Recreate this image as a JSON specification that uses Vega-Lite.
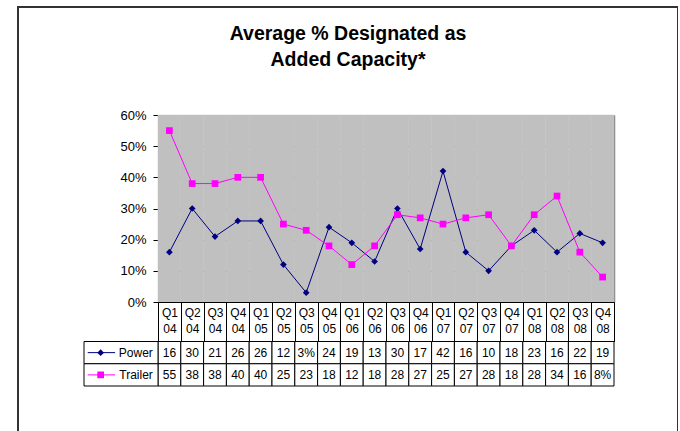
{
  "$schema": "https://vega.github.io/schema/vega-lite/v6.json",
  "width": 660,
  "height": 430,
  "autosize": {"type": "none"},
  "padding": {"left": 18, "top": 7, "right": 0, "bottom": 0},
  "background": "white",
  "config": {
    "view": {"stroke": "#333333", "strokeWidth": 2},
    "font": "Liberation Sans",
    "axis": {"labelFont": "Liberation Sans", "labelColor": "#000000"},
    "text": {"font": "Liberation Sans", "color": "#000000"}
  },
  "title": {
    "text": ["Average % Designated as", "Added Capacity*"],
    "font": "Liberation Sans",
    "fontSize": 19.5,
    "fontWeight": "bold",
    "lineHeight": 26,
    "color": "#000000",
    "anchor": "middle",
    "offset": -63
  },
  "data": {
    "values": [
      {"q": "Q1 04", "series": "Power", "value": 16},
      {"q": "Q2 04", "series": "Power", "value": 30},
      {"q": "Q3 04", "series": "Power", "value": 21},
      {"q": "Q4 04", "series": "Power", "value": 26},
      {"q": "Q1 05", "series": "Power", "value": 26},
      {"q": "Q2 05", "series": "Power", "value": 12},
      {"q": "Q3 05", "series": "Power", "value": 3},
      {"q": "Q4 05", "series": "Power", "value": 24},
      {"q": "Q1 06", "series": "Power", "value": 19},
      {"q": "Q2 06", "series": "Power", "value": 13},
      {"q": "Q3 06", "series": "Power", "value": 30},
      {"q": "Q4 06", "series": "Power", "value": 17},
      {"q": "Q1 07", "series": "Power", "value": 42},
      {"q": "Q2 07", "series": "Power", "value": 16},
      {"q": "Q3 07", "series": "Power", "value": 10},
      {"q": "Q4 07", "series": "Power", "value": 18},
      {"q": "Q1 08", "series": "Power", "value": 23},
      {"q": "Q2 08", "series": "Power", "value": 16},
      {"q": "Q3 08", "series": "Power", "value": 22},
      {"q": "Q4 08", "series": "Power", "value": 19},
      {"q": "Q1 04", "series": "Trailer", "value": 55},
      {"q": "Q2 04", "series": "Trailer", "value": 38},
      {"q": "Q3 04", "series": "Trailer", "value": 38},
      {"q": "Q4 04", "series": "Trailer", "value": 40},
      {"q": "Q1 05", "series": "Trailer", "value": 40},
      {"q": "Q2 05", "series": "Trailer", "value": 25},
      {"q": "Q3 05", "series": "Trailer", "value": 23},
      {"q": "Q4 05", "series": "Trailer", "value": 18},
      {"q": "Q1 06", "series": "Trailer", "value": 12},
      {"q": "Q2 06", "series": "Trailer", "value": 18},
      {"q": "Q3 06", "series": "Trailer", "value": 28},
      {"q": "Q4 06", "series": "Trailer", "value": 27},
      {"q": "Q1 07", "series": "Trailer", "value": 25},
      {"q": "Q2 07", "series": "Trailer", "value": 27},
      {"q": "Q3 07", "series": "Trailer", "value": 28},
      {"q": "Q4 07", "series": "Trailer", "value": 18},
      {"q": "Q1 08", "series": "Trailer", "value": 28},
      {"q": "Q2 08", "series": "Trailer", "value": 34},
      {"q": "Q3 08", "series": "Trailer", "value": 16},
      {"q": "Q4 08", "series": "Trailer", "value": 8}
    ]
  },
  "transform": [
    {"calculate": "datum.value < 10 ? datum.value + '%' : '' + datum.value", "as": "label"}
  ],
  "layer": [
    {
      "encoding": {
        "x": {
          "field": "q", "type": "nominal", "sort": null,
          "scale": {"type": "band", "range": [140, 596], "paddingInner": 0, "paddingOuter": 0},
          "axis": {
            "orient": "bottom", "offset": -135, "title": null,
            "domainColor": "#000000", "domainWidth": 1,
            "tickBand": "extent", "tickSize": 39.5, "tickColor": "#000000", "tickWidth": 1,
            "labelExpr": "split(datum.label, ' ')",
            "labelAngle": 0, "labelFontSize": 12, "labelLineHeight": 16,
            "labelPadding": -34.5, "labelOverlap": false, "labelBound": false, "labelFlush": false,
            "grid": false
          }
        }
      },
      "layer": [
        {
          "transform": [{"filter": "datum.series == 'Power'"}],
          "mark": {"type": "rect", "fill": "#C0C0C0", "stroke": "#C0C0C0", "strokeWidth": 0.5},
          "encoding": {
            "y": {"datum": 0, "type": "quantitative",
              "axis": {"orient": "right", "offset": -64, "title": null, "labels": false, "ticks": false, "grid": false, "domainColor": "#808080", "domainWidth": 1.5}},
            "y2": {"datum": 60}
          }
        },
        {
          "mark": {"type": "line", "strokeWidth": 1},
          "encoding": {
            "y": {
              "field": "value", "type": "quantitative",
              "scale": {"domain": [0, 60], "range": [295, 108], "nice": false, "zero": true},
              "axis": {
                "orient": "left", "offset": -140, "title": null,
                "values": [0, 10, 20, 30, 40, 50, 60],
                "labelExpr": "datum.value + '%'",
                "labelFontSize": 13, "labelPadding": 7,
                "tickSize": 5, "tickColor": "#000000",
                "domainColor": "#000000",
                "grid": true,
                "gridColor": {"condition": {"test": "datum.value == 60", "value": "#808080"}, "value": "#000000"},
                "gridWidth": 1
              }
            },
            "color": {"field": "series", "type": "nominal",
              "scale": {"domain": ["Power", "Trailer"], "range": ["#000080", "#FF00FF"]}, "legend": null}
          }
        },
        {
          "mark": {"type": "point", "filled": true, "opacity": 1, "size": 45},
          "encoding": {
            "y": {"field": "value", "type": "quantitative", "axis": null},
            "color": {"field": "series", "type": "nominal", "legend": null},
            "shape": {"field": "series", "type": "nominal",
              "scale": {"domain": ["Power", "Trailer"], "range": ["diamond", "square"]}, "legend": null}
          }
        }
      ]
    },
    {
      "encoding": {
        "x": {
          "field": "q", "type": "nominal", "sort": null,
          "scale": {"type": "band", "range": [140, 596], "paddingInner": 0, "paddingOuter": 0},
          "axis": null
        },
        "y": {
          "field": "series", "type": "nominal", "sort": ["Power", "Trailer"],
          "scale": {"type": "band", "range": [334.5, 379], "paddingInner": 0, "paddingOuter": 0},
          "axis": null
        }
      },
      "layer": [
        {"mark": {"type": "rect", "fill": "#FFFFFF", "stroke": "#000000", "strokeWidth": 1}},
        {"mark": {"type": "text", "fontSize": 12, "align": "center", "baseline": "middle"},
          "encoding": {"text": {"field": "label"}}}
      ]
    },
    {
      "transform": [{"filter": "datum.q == 'Q1 04'"}],
      "encoding": {
        "y": {
          "field": "series", "type": "nominal", "sort": ["Power", "Trailer"],
          "scale": {"type": "band", "range": [334.5, 379], "paddingInner": 0, "paddingOuter": 0},
          "axis": null
        }
      },
      "layer": [
        {
          "mark": {"type": "rect", "fill": "#FFFFFF", "stroke": "#000000", "strokeWidth": 1},
          "encoding": {
            "x": {"datum": 0, "type": "quantitative", "scale": {"domain": [0, 1], "range": [66, 140], "nice": false, "zero": false}, "axis": null},
            "x2": {"datum": 1}
          }
        },
        {
          "mark": {"type": "rule", "strokeWidth": 1},
          "encoding": {
            "x": {"datum": 0.05, "type": "quantitative"},
            "x2": {"datum": 0.42},
            "y": {"field": "series", "type": "nominal", "sort": ["Power", "Trailer"], "bandPosition": 0.5},
            "color": {"field": "series", "type": "nominal",
              "scale": {"domain": ["Power", "Trailer"], "range": ["#000080", "#FF00FF"]}, "legend": null}
          }
        },
        {
          "mark": {"type": "point", "filled": true, "opacity": 1, "size": 45},
          "encoding": {
            "x": {"datum": 0.225, "type": "quantitative"},
            "y": {"field": "series", "type": "nominal", "sort": ["Power", "Trailer"], "bandPosition": 0.5},
            "color": {"field": "series", "type": "nominal", "legend": null},
            "shape": {"field": "series", "type": "nominal",
              "scale": {"domain": ["Power", "Trailer"], "range": ["diamond", "square"]}, "legend": null}
          }
        },
        {
          "mark": {"type": "text", "fontSize": 12, "align": "right", "baseline": "middle"},
          "encoding": {
            "x": {"datum": 0.93, "type": "quantitative"},
            "y": {"field": "series", "type": "nominal", "sort": ["Power", "Trailer"], "bandPosition": 0.5},
            "text": {"field": "series"}
          }
        }
      ]
    }
  ],
  "resolve": {"scale": {"x": "independent", "y": "independent", "color": "independent", "shape": "independent"}}
}
